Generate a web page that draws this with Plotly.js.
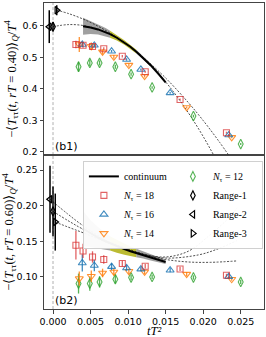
<!DOCTYPE html>
<html><head><meta charset="utf-8">
<script src="https://cdn.plot.ly/plotly-3.0.1.min.js"></script>
<style>html,body{margin:0;padding:0;background:#fff}#c{width:266px;height:337px}</style>
</head><body><div id="c"></div>
<script>
// ---------- data ----------
const tN18 = [0.00305, 0.0040, 0.00526, 0.00676, 0.00923, 0.01228, 0.01692, 0.0231];
const topN18 = [0.5405, 0.538, 0.534, 0.527, 0.503, 0.454, 0.366, 0.261];
const topN18err = [0.012, 0.008, 0.006, 0.005, 0.004, 0.003, 0.003, 0.003];
const botN18 = [0.1444, 0.1364, 0.128, 0.1244, 0.1188, 0.115, 0.1112, 0.1024];
const botN18err = [0.02, 0.01, 0.008, 0.006, 0.004, 0.003, 0.003, 0.002];

const tN16 = [0.0039, 0.0055, 0.0078, 0.0098, 0.0117, 0.0156, 0.0234];
const topN16 = [0.5405, 0.538, 0.519, 0.493, 0.4614, 0.387, 0.2535];
const topN16err = [0.008, 0.006, 0.004, 0.004, 0.003, 0.003, 0.003];
const botN16 = [0.1196, 0.116, 0.1145, 0.1125, 0.111, 0.1094, 0.1005];
const botN16err = [0.012, 0.008, 0.005, 0.004, 0.003, 0.003, 0.002];

const tN14 = [0.0035, 0.0051, 0.0066, 0.0081, 0.0101, 0.0122, 0.0178, 0.0238];
const topN14 = [0.5405, 0.535, 0.517, 0.501, 0.475, 0.44, 0.341, 0.246];
const topN14err = [0.024, 0.012, 0.008, 0.006, 0.005, 0.004, 0.003, 0.003];
const botN14 = [0.0977, 0.101, 0.1056, 0.107, 0.108, 0.107, 0.1039, 0.0968];
const botN14err = [0.01, 0.008, 0.006, 0.005, 0.004, 0.003, 0.003, 0.002];

const tN12 = [0.0034, 0.0049, 0.0062, 0.0083, 0.0104, 0.0132, 0.0187, 0.0250];
const topN12 = [0.470, 0.482, 0.482, 0.470, 0.4465, 0.4044, 0.3136, 0.225];
const topN12err = [0.016, 0.01, 0.008, 0.006, 0.005, 0.004, 0.004, 0.003];
const botN12 = [0.0907, 0.0907, 0.093, 0.0968, 0.0992, 0.100, 0.0992, 0.093];
const botN12err = [0.014, 0.01, 0.008, 0.006, 0.004, 0.003, 0.003, 0.003];

// continuum extrapolation (t=0) points: Range-1, Range-2, Range-3
const topRangeT = [0.0, -0.0005, 0.0005];
const topRangeY = [0.597, 0.597, 0.649];
const topRangeErr = [0.015, 0.052, 0.016];
const botRangeT = [0.0, -0.0004, 0.0003];
const botRangeY = [0.192, 0.209, 0.177];
const botRangeErr = [0.035, 0.047, 0.04];

// continuum curve and band
const tCont = [0.004, 0.005, 0.006, 0.007, 0.0076, 0.0085, 0.0095, 0.0103, 0.0111, 0.012, 0.013, 0.014, 0.015];
const topCont = [0.598, 0.5945, 0.5882, 0.5796, 0.5732, 0.5619, 0.5469, 0.5332, 0.5178, 0.4986, 0.4749, 0.4488, 0.4201];
const topContErr = [0.027, 0.021, 0.016, 0.013, 0.011, 0.009, 0.007, 0.006, 0.006, 0.005, 0.005, 0.004, 0.004];
const botCont = [0.168, 0.161, 0.155, 0.150, 0.1472, 0.143, 0.139, 0.136, 0.1335, 0.131, 0.127, 0.124, 0.121];
const botContErr = [0.025, 0.019, 0.015, 0.012, 0.010, 0.009, 0.008, 0.007, 0.006, 0.005, 0.004, 0.004, 0.003];
const fitStart = 4, fitEnd = 8; // fit window index range (yellow)

// fit curves toward t=0
const topFit1T = [0.0, 0.002, 0.004, 0.006, 0.008, 0.010, 0.012, 0.014, 0.016, 0.018, 0.020, 0.022];
const topFit1Y = [0.597, 0.6035, 0.6008, 0.589, 0.568, 0.5377, 0.498, 0.4497, 0.392, 0.325, 0.249, 0.1635];
const topFit3T = [0.0005, 0.002, 0.004, 0.006, 0.008, 0.010, 0.012, 0.015, 0.018, 0.020, 0.022, 0.024];
const topFit3Y = [0.649, 0.639, 0.6212, 0.5984, 0.5708, 0.538, 0.5002, 0.4343, 0.357, 0.2995, 0.2368, 0.169];
const botFit2T = [-0.0004, 0.002, 0.004, 0.008, 0.012, 0.015, 0.018, 0.0208, 0.0238, 0.0245];
const botFit2Y = [0.209, 0.188, 0.172, 0.146, 0.132, 0.128, 0.136, 0.158, 0.187, 0.197];
const botFit1T = [0.0, 0.002, 0.004, 0.008, 0.012, 0.015, 0.0194, 0.022, 0.0245];
const botFit1Y = [0.192, 0.179, 0.167, 0.147, 0.1325, 0.1265, 0.131, 0.1395, 0.151];
const botFit3T = [0.0003, 0.002, 0.004, 0.008, 0.012, 0.015, 0.018, 0.021, 0.0245];
const botFit3Y = [0.177, 0.170, 0.162, 0.145, 0.131, 0.1245, 0.121, 0.1205, 0.1225];

const xTicks = [0.000, 0.005, 0.010, 0.015, 0.020, 0.025];

// ---------- styling ----------
const RED = 'rgba(214,39,40,0.72)', BLUE = 'rgba(31,119,180,0.85)', ORANGE = 'rgba(255,127,14,0.85)', GREEN = 'rgba(44,160,44,0.8)';
const GRAY = 'rgba(128,128,128,0.75)', OLIVE = 'rgba(175,175,15,0.85)';

function band(t, c, e, i0, i1) {
  const xs = [], ys = [];
  for (let i = i0; i <= i1; i++) { xs.push(t[i]); ys.push(c[i] + e[i]); }
  for (let i = i1; i >= i0; i--) { xs.push(t[i]); ys.push(c[i] - e[i]); }
  return {xs, ys};
}
function bandTraces(c, e, xa, ya) {
  const segs = [[0, fitStart, GRAY], [fitStart, fitEnd, OLIVE], [fitEnd, tCont.length - 1, GRAY]];
  return segs.map(s => {
    const b = band(tCont, c, e, s[0], s[1]);
    return {x: b.xs, y: b.ys, xaxis: xa, yaxis: ya, mode: 'lines', fill: 'toself', fillcolor: s[2],
      line: {width: 0}, showlegend: false, hoverinfo: 'skip'};
  });
}
function pts(t, y, err, color, symbol, size, xa, ya, name, show, rank) {
  return {x: t, y: y, xaxis: xa, yaxis: ya, mode: 'markers', name: name, showlegend: show, legendrank: rank,
    marker: {symbol: symbol, size: size, color: color, line: {color: color, width: 1.1}},
    error_y: {type: 'data', array: err, color: color, thickness: 1.3, width: 0}};
}
function fitLine(t, y, xa, ya) {
  return {x: t, y: y, xaxis: xa, yaxis: ya, mode: 'lines', line: {color: '#222', width: 0.8, dash: '2px,1.5px', shape: 'spline'},
    showlegend: false, hoverinfo: 'skip'};
}
function contLine(c, xa, ya, show) {
  return {x: tCont, y: c, xaxis: xa, yaxis: ya, mode: 'lines', name: 'continuum', showlegend: show, legendrank: 1,
    line: {color: '#000', width: 2}};
}
function rangePts(t, y, err, i, xa, ya, show) {
  const syms = ['diamond-tall-open', 'triangle-left-open', 'triangle-right-open'];
  const names = ['Range-1', 'Range-2', 'Range-3'];
  const ranks = [4, 6, 8];
  return {x: [t[i]], y: [y[i]], xaxis: xa, yaxis: ya, mode: 'markers', name: names[i], showlegend: show, legendrank: ranks[i],
    marker: {symbol: syms[i], size: 6.5, color: '#000', line: {color: '#000', width: 1.2}},
    error_y: {type: 'data', array: [err[i]], color: '#000', thickness: 1.5, width: 0}};
}

const data = [];
// top panel (x2, y2)
data.push(...bandTraces(topCont, topContErr, 'x2', 'y2'));
data.push(fitLine(topFit1T, topFit1Y, 'x2', 'y2'), fitLine(topFit3T, topFit3Y, 'x2', 'y2'));
data.push(pts(tN12, topN12, topN12err, GREEN, 'diamond-tall-open', 7, 'x2', 'y2', 'N12', false, 2));
data.push(pts(tN14, topN14, topN14err, ORANGE, 'triangle-down-open', 7, 'x2', 'y2', 'N14', false, 7));
data.push(pts(tN16, topN16, topN16err, BLUE, 'triangle-up-open', 7, 'x2', 'y2', 'N16', false, 5));
data.push(pts(tN18, topN18, topN18err, RED, 'square-open', 6, 'x2', 'y2', 'N18', false, 3));
data.push(contLine(topCont, 'x2', 'y2', false));
for (let i = 0; i < 3; i++) data.push(rangePts(topRangeT, topRangeY, topRangeErr, i, 'x2', 'y2', false));

// bottom panel (x, y)
data.push(...bandTraces(botCont, botContErr, 'x', 'y'));
data.push(fitLine(botFit2T, botFit2Y, 'x', 'y'), fitLine(botFit1T, botFit1Y, 'x', 'y'), fitLine(botFit3T, botFit3Y, 'x', 'y'));
data.push(pts(tN12, botN12, botN12err, GREEN, 'diamond-tall-open', 7, 'x', 'y', '<i>N</i><sub>τ</sub> = 12', true, 2));
data.push(pts(tN14, botN14, botN14err, ORANGE, 'triangle-down-open', 7, 'x', 'y', '<i>N</i><sub>τ</sub> = 14', true, 7));
data.push(pts(tN16, botN16, botN16err, BLUE, 'triangle-up-open', 7, 'x', 'y', '<i>N</i><sub>τ</sub> = 16', true, 5));
data.push(pts(tN18, botN18, botN18err, RED, 'square-open', 6, 'x', 'y', '<i>N</i><sub>τ</sub> = 18', true, 3));
data.push(contLine(botCont, 'x', 'y', true));
for (let i = 0; i < 3; i++) data.push(rangePts(botRangeT, botRangeY, botRangeErr, i, 'x', 'y', true));

const tickFont = {family: 'DejaVu Sans', size: 9.5, color: '#000'};
const axCommon = {showline: true, linecolor: '#444', linewidth: 1, mirror: true, showgrid: false, zeroline: false,
  ticks: 'outside', ticklen: 3.5, tickwidth: 1, tickcolor: '#444', tickfont: tickFont};
const XR = [-0.0012, 0.0281];

const layout = {
  width: 266, height: 337,
  margin: {l: 44, r: 2, t: 3, b: 28, autoexpand: false},
  paper_bgcolor: '#fff', plot_bgcolor: '#fff',
  xaxis: Object.assign({}, axCommon, {anchor: 'y', range: XR, tickvals: xTicks, tickformat: '.3f', automargin: false}),
  xaxis2: Object.assign({}, axCommon, {anchor: 'y2', matches: 'x', range: XR, tickvals: xTicks, showticklabels: false, ticks: ''}),
  yaxis: Object.assign({}, axCommon, {domain: [0, 0.503], range: [0.055, 0.271], tickvals: [0.10, 0.15, 0.20, 0.25], tickformat: '.2f',
    title: {text: '−⟨<i>T</i><sub>ττ</sub>(<i>t</i>, <i>rT</i> = 0.60)⟩<sub><i>Q</i></sub>/<i>T</i><sup>4</sup>', font: {family: 'Liberation Serif', size: 12.5, color: '#000'}, standoff: 3}}),
  yaxis2: Object.assign({}, axCommon, {domain: [0.503, 1], range: [0.19, 0.672], tickvals: [0.2, 0.3, 0.4, 0.5, 0.6], tickformat: '.1f',
    title: {text: '−⟨<i>T</i><sub>ττ</sub>(<i>t</i>, <i>rT</i> = 0.40)⟩<sub><i>Q</i></sub>/<i>T</i><sup>4</sup>', font: {family: 'Liberation Serif', size: 12.5, color: '#000'}, standoff: 3}}),
  legend: {orientation: 'h', x: 0.995, xanchor: 'right', y: 0.484, yanchor: 'top',
    bgcolor: 'rgba(255,255,255,0.95)', bordercolor: '#d0d0d0', borderwidth: 1,
    font: {family: 'Liberation Serif', size: 10, color: '#000'}, itemwidth: 30, traceorder: 'normal',
    entrywidth: 44, entrywidthmode: 'pixels'},
  shapes: [
    {type: 'line', xref: 'x', yref: 'y domain', x0: 0, x1: 0, y0: 0, y1: 1, line: {color: '#b0b0b0', width: 1, dash: '3px,2px'}, layer: 'below'},
    {type: 'line', xref: 'x2', yref: 'y2 domain', x0: 0, x1: 0, y0: 0, y1: 1, line: {color: '#b0b0b0', width: 1, dash: '3px,2px'}, layer: 'below'}
  ],
  annotations: [
    {text: '(b1)', xref: 'x2 domain', yref: 'y2 domain', x: 0.04, y: 0.0, xanchor: 'left', yanchor: 'bottom', showarrow: false,
      font: {family: 'DejaVu Sans', size: 11, color: '#000'}},
    {text: '(b2)', xref: 'x domain', yref: 'y domain', x: 0.04, y: 0.0, xanchor: 'left', yanchor: 'bottom', showarrow: false,
      font: {family: 'DejaVu Sans', size: 11, color: '#000'}},
    {text: '<i>tT²</i>', xref: 'x domain', yref: 'paper', x: 0.5, y: -0.071, xanchor: 'center', yanchor: 'middle', showarrow: false,
      font: {family: 'Liberation Serif', size: 12.5, color: '#000'}, borderpad: 0}
  ],
  showlegend: true
};

Plotly.newPlot('c', data, layout, {staticPlot: true, displayModeBar: false});
</script></body></html>
